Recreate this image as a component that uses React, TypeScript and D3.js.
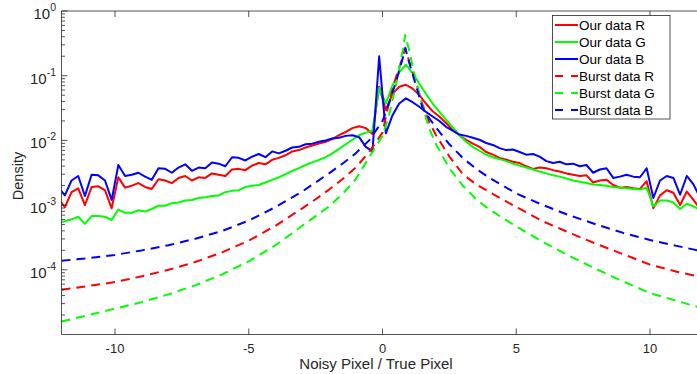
import * as d3 from "d3";

// Histogram bin centres of "our data" (0.25 wide bins, centred at -12.125 ... 12.125)
const ourX = d3.range(98).map((k) => -12.125 + 0.25 * k);

// log10(density)
const ourR = [
  -2.90, -3.03, -2.80, -2.74, -3.00, -2.72, -2.71, -2.77, -3.05, -2.57,
  -2.73, -2.70, -2.66, -2.72, -2.75, -2.60, -2.62, -2.66, -2.58, -2.55,
  -2.62, -2.57, -2.58, -2.51, -2.53, -2.55, -2.45, -2.44, -2.46, -2.39,
  -2.35, -2.37, -2.30, -2.27, -2.23, -2.17, -2.15, -2.11, -2.08, -2.05,
  -2.02, -1.98, -1.92, -1.87, -1.81, -1.78, -1.81, -1.90, -1.17, -1.53,
  -1.28, -1.17, -1.14, -1.20, -1.30, -1.43, -1.55, -1.63, -1.73, -1.84,
  -1.92, -1.99, -2.05, -2.10, -2.18, -2.22, -2.27, -2.30, -2.33, -2.35,
  -2.40, -2.44, -2.42, -2.43, -2.46, -2.48, -2.51, -2.53, -2.55, -2.54,
  -2.65, -2.62, -2.61, -2.69, -2.73, -2.72, -2.74, -2.75, -2.63, -3.05,
  -2.85, -2.77, -2.81, -3.00, -2.79, -2.92, -3.06, -2.95,
];
const ourG = [
  -3.27, -3.25, -3.22, -3.18, -3.29, -3.17, -3.17, -3.18, -3.23, -3.07,
  -3.12, -3.12, -3.08, -3.10, -3.06, -3.01, -3.01, -2.97, -2.96, -2.93,
  -2.92, -2.89, -2.88, -2.86, -2.85, -2.80, -2.78, -2.77, -2.72, -2.70,
  -2.69, -2.65, -2.61, -2.57, -2.52, -2.47, -2.43, -2.38, -2.34, -2.30,
  -2.26, -2.20, -2.13, -2.06, -1.99, -1.92, -1.88, -1.85, -1.19, -1.43,
  -1.15, -0.95, -0.83, -0.96, -1.12, -1.28, -1.43, -1.56, -1.68, -1.80,
  -1.92, -2.02, -2.10, -2.16, -2.22, -2.26, -2.29, -2.32, -2.36, -2.39,
  -2.42, -2.45, -2.48, -2.51, -2.54, -2.56, -2.59, -2.62, -2.64, -2.66,
  -2.68, -2.69, -2.70, -2.72, -2.73, -2.74, -2.75, -2.76, -2.73, -3.02,
  -2.93, -2.93, -2.96, -3.06, -2.98, -3.02, -3.08, -3.05,
];
const ourB = [
  -2.72, -2.85, -2.62, -2.55, -2.86, -2.53, -2.54, -2.62, -2.92, -2.38,
  -2.55, -2.53, -2.50, -2.56, -2.61, -2.43, -2.44, -2.50, -2.42, -2.37,
  -2.47, -2.42, -2.43, -2.34, -2.36, -2.40, -2.26, -2.27, -2.31, -2.25,
  -2.21, -2.26, -2.17, -2.20, -2.16, -2.11, -2.10, -2.06, -2.05, -2.02,
  -2.00, -1.97, -1.96, -1.93, -1.92, -1.95, -2.10, -2.17, -0.70, -1.89,
  -1.61, -1.43, -1.35, -1.41, -1.48, -1.56, -1.63, -1.70, -1.79, -1.85,
  -1.91, -1.93, -1.96, -1.99, -2.04, -2.07, -2.12, -2.15, -2.14, -2.18,
  -2.22, -2.21, -2.25, -2.32, -2.35, -2.33, -2.37, -2.36, -2.40, -2.38,
  -2.50, -2.45, -2.43, -2.58, -2.56, -2.53, -2.56, -2.57, -2.43, -2.89,
  -2.62, -2.55, -2.58, -2.84, -2.55, -2.68, -2.89, -2.75,
];

// Burst model curves (smooth), log10(density)
const burstX = [
  -12, -11, -10, -9, -8, -7, -6, -5, -4, -3, -2.5, -2, -1.5, -1, -0.5, 0,
  0.25, 0.5, 0.75, 0.85, 1, 1.25, 1.5, 1.75, 2, 2.5, 3, 3.5, 4, 5, 6, 7, 8,
  9, 10, 11, 12,
];
const burstR = [
  -4.31, -4.25, -4.19, -4.10, -4.00, -3.88, -3.73, -3.55, -3.32, -3.05,
  -2.91, -2.76, -2.60, -2.42, -2.18, -1.88, -1.40, -1.03, -0.72, -0.58,
  -0.78, -1.10, -1.45, -1.72, -1.92, -2.25, -2.52, -2.68, -2.80, -3.03,
  -3.25, -3.43, -3.60, -3.76, -3.92, -4.03, -4.12,
];
const burstG = [
  -4.80, -4.70, -4.60, -4.50, -4.38, -4.24, -4.07, -3.87, -3.62, -3.32,
  -3.17, -3.02, -2.83, -2.60, -2.26, -1.93, -1.60, -1.15, -0.62, -0.37,
  -0.62, -1.08, -1.48, -1.82, -2.06, -2.43, -2.70, -2.91, -3.07, -3.33,
  -3.57, -3.79, -3.99, -4.18, -4.36, -4.48, -4.60,
];
const burstB = [
  -3.86, -3.82, -3.77, -3.70, -3.62, -3.52, -3.40, -3.24, -3.03, -2.79,
  -2.65, -2.51, -2.36, -2.20, -2.00, -1.70, -1.42, -1.10, -0.74, -0.57,
  -0.80, -1.15, -1.50, -1.66, -1.80, -2.06, -2.27, -2.44, -2.58, -2.82,
  -3.00, -3.16, -3.30, -3.43, -3.54, -3.63, -3.72,
];

const xTicks = [-10, -5, 0, 5, 10];
const yDecades = [0, -1, -2, -3, -4];
const legendLabels = [
  "Our data R",
  "Our data G",
  "Our data B",
  "Burst data R",
  "Burst data G",
  "Burst data B",
];

const W = 697;
const H = 374;
const FONT = "'Liberation Sans', Arial, Helvetica, sans-serif";
const AX = "#262626";

type Series = { xs: number[]; ys: number[]; color: string; dashed: boolean };

const series: Series[] = [
  { xs: ourX, ys: ourR, color: "#ff0000", dashed: false },
  { xs: ourX, ys: ourG, color: "#00ff00", dashed: false },
  { xs: ourX, ys: ourB, color: "#0000ff", dashed: false },
  { xs: burstX, ys: burstR, color: "#ff0000", dashed: true },
  { xs: burstX, ys: burstG, color: "#00ff00", dashed: true },
  { xs: burstX, ys: burstB, color: "#0000ff", dashed: true },
];

const DASH = "9,6";

export default function App() {
  const x = d3.scaleLinear().domain([-12, 12]).range([61.5, 703.5]);
  const y = d3.scaleLog().domain([1e-5, 1]).range([334.5, 11]);
  const [x0, x1] = x.range();
  const [yb, yt] = y.range();

  const line = d3
    .line<[number, number]>()
    .x((d) => x(d[0]))
    .y((d) => y(d[1]));

  const minor: number[] = [];
  for (let e = -5; e < 0; e++) {
    for (let m = 2; m <= 9; m++) minor.push(m * Math.pow(10, e));
  }

  const legend = { x: 552.5, y: 15.5, w: 117.5, h: 103.5, row0: 25, step: 17 };

  return (
    <svg
      width={W}
      height={H}
      viewBox={`0 0 ${W} ${H}`}
      style={{ position: "absolute", left: 0, top: 0, display: "block", background: "#fff" }}
      fontFamily={FONT}
    >
      <defs>
        <clipPath id="plot">
          <rect x={x0} y={yt} width={x1 - x0} height={yb - yt} />
        </clipPath>
      </defs>
      <rect x={0} y={0} width={W} height={H} fill="#fff" />

      {/* data */}
      <g clipPath="url(#plot)">
        {series.map((s, i) => (
          <path
            key={i}
            d={line(s.xs.map((v, j) => [v, Math.pow(10, s.ys[j])] as [number, number])) || ""}
            fill="none"
            stroke={s.color}
            strokeWidth={2}
            strokeLinejoin="round"
            strokeDasharray={s.dashed ? DASH : undefined}
          />
        ))}
      </g>

      {/* axes box */}
      <g stroke={AX} strokeWidth={0.8} fill="none">
        <line x1={x0} x2={x1} y1={yt} y2={yt} />
        <line x1={x0} x2={x1} y1={yb} y2={yb} />
        <line x1={x0} x2={x0} y1={yt} y2={yb} />
        {xTicks.map((t) => (
          <g key={t}>
            <line x1={x(t)} x2={x(t)} y1={yb} y2={yb - 6} />
            <line x1={x(t)} x2={x(t)} y1={yt} y2={yt + 6} />
          </g>
        ))}
        {yDecades.map((d) => (
          <line key={d} x1={x0} x2={x0 + 6} y1={y(Math.pow(10, d))} y2={y(Math.pow(10, d))} />
        ))}
        {minor.map((v, i) => (
          <line key={i} x1={x0} x2={x0 + 3.5} y1={y(v)} y2={y(v)} />
        ))}
      </g>

      {/* tick labels */}
      <g fill={AX}>
        {xTicks.map((t) => (
          <text key={t} x={x(t)} y={353} textAnchor="middle" fontSize={13}>
            {t}
          </text>
        ))}
        {yDecades.map((d) => (
          <text key={d} x={56} y={y(Math.pow(10, d)) + 8} textAnchor="end" fontSize={15}>
            <tspan>10</tspan>
            <tspan dy={-8} fontSize={10.5}>
              {d}
            </tspan>
          </text>
        ))}
      </g>

      {/* axis titles */}
      <text x={376} y={369} textAnchor="middle" fontSize={15} fill={AX}>
        Noisy Pixel / True Pixel
      </text>
      <text
        transform={`translate(23,176) rotate(-90)`}
        textAnchor="middle"
        fontSize={14.5}
        fill={AX}
      >
        Density
      </text>

      {/* legend */}
      <rect
        x={legend.x}
        y={legend.y}
        width={legend.w}
        height={legend.h}
        fill="#fff"
        stroke={AX}
        strokeWidth={0.8}
      />
      {legendLabels.map((label, i) => {
        const cy = legend.row0 + i * legend.step;
        const s = series[i];
        return (
          <g key={label}>
            <line
              x1={555}
              x2={578}
              y1={cy}
              y2={cy}
              stroke={s.color}
              strokeWidth={2}
              strokeDasharray={s.dashed ? "8,8" : undefined}
            />
            <text x={579} y={cy + 5} fontSize={13.5} fill="#000">
              {label}
            </text>
          </g>
        );
      })}
    </svg>
  );
}
